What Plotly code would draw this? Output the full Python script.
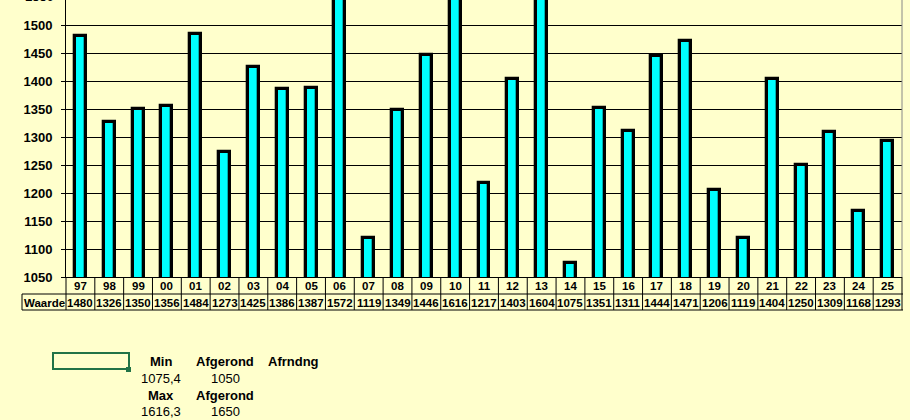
import plotly.graph_objects as go

# ---- data ----
years = ["97", "98", "99", "00", "01", "02", "03", "04", "05", "06", "07", "08", "09", "10",
         "11", "12", "13", "14", "15", "16", "17", "18", "19", "20", "21", "22", "23", "24", "25"]
values = [1480, 1326, 1350, 1356, 1484, 1273, 1425, 1386, 1387, 1572, 1119, 1349, 1446, 1616,
          1217, 1403, 1604, 1075, 1351, 1311, 1444, 1471, 1206, 1119, 1404, 1250, 1309, 1168, 1293]
y_ticks = [1050, 1100, 1150, 1200, 1250, 1300, 1350, 1400, 1450, 1500, 1550]
row_label = "Waarde"
sum_headers1 = ["Min", "Afgerond", "Afrndng"]
sum_values1 = ["1075,4", "1050", ""]
sum_headers2 = ["Max", "Afgerond"]
sum_values2 = ["1616,3", "1650"]

# ---- layout geometry (pixels) ----
W, H = 910, 420
L, R, T, B = 66, 902, 0, 277
y_min = 1050
px_per_unit = 0.56
y_max = y_min + (B - T) / px_per_unit
n = len(years)

def pxx(x):
    return (x - L) / (R - L)

def pxy(y):
    return (B - y) / (B - T)

def catx(i):
    return (i + 0.5) / n

BG = "#FFFFCC"
FONT = "Liberation Sans"

fig = go.Figure()
fig.add_trace(go.Bar(
    x=list(range(n)), y=values, width=0.38,
    marker=dict(color="#00FFFF", line=dict(color="black", width=3.3)),
    hoverinfo="skip",
))

shapes = []
annotations = []

# table: vertical lines at category boundaries
for i in range(n + 1):
    xb = i / n
    shapes.append(dict(type="line", xref="paper", yref="paper", x0=xb, x1=xb,
                       y0=pxy(277), y1=pxy(310), line=dict(color="black", width=1)))
# horizontal lines
for yy in (294, 310):
    shapes.append(dict(type="line", xref="paper", yref="paper", x0=pxx(22), x1=1 + 1 / (R - L),
                       y0=pxy(yy), y1=pxy(yy), line=dict(color="black", width=1)))
# left cell border
shapes.append(dict(type="line", xref="paper", yref="paper", x0=pxx(22), x1=pxx(22),
                   y0=pxy(294), y1=pxy(310), line=dict(color="black", width=1)))
# right gray border of plot area
shapes.append(dict(type="line", xref="paper", yref="paper", x0=1, x1=1,
                   y0=0, y1=1, line=dict(color="#888888", width=1)))

for i, (yr, v) in enumerate(zip(years, values)):
    annotations.append(dict(xref="paper", yref="paper", x=catx(i), y=pxy(286), text=f"<b>{yr}</b>",
                            showarrow=False, xanchor="center", yanchor="middle",
                            font=dict(family=FONT, size=11.5, color="black")))
    annotations.append(dict(xref="paper", yref="paper", x=catx(i), y=pxy(302.5), text=f"<b>{v}</b>",
                            showarrow=False, xanchor="center", yanchor="middle",
                            font=dict(family=FONT, size=11.5, color="black")))
annotations.append(dict(xref="paper", yref="paper", x=pxx(44), y=pxy(302.5), text=f"<b>{row_label}</b>",
                        showarrow=False, xanchor="center", yanchor="middle",
                        font=dict(family=FONT, size=11.5, color="black")))

# partially visible top tick label
annotations.append(dict(xref="paper", yref="paper", x=0, xshift=-10,
                        y=(y_ticks[-1] - y_min) / (y_max - y_min),
                        text=f"<b>{y_ticks[-1]}</b>", showarrow=False, xanchor="right", yanchor="middle",
                        font=dict(family=FONT, size=13, color="black")))

# green selected cell
shapes.append(dict(type="rect", xref="paper", yref="paper", x0=pxx(53), x1=pxx(129),
                   y0=pxy(353), y1=pxy(369), line=dict(color="#217346", width=2)))
shapes.append(dict(type="rect", xref="paper", yref="paper", x0=pxx(126), x1=pxx(131),
                   y0=pxy(367), y1=pxy(372), fillcolor="#217346", line=dict(width=0)))

# summary text
cols = [160.5, 225, 293]
def add_text(xc, yc, txt, bold):
    if not txt:
        return
    t = f"<b>{txt}</b>" if bold else txt
    annotations.append(dict(xref="paper", yref="paper", x=pxx(xc), y=pxy(yc), text=t,
                            showarrow=False, xanchor="center", yanchor="middle",
                            font=dict(family=FONT, size=13, color="black")))

for c, t in zip(cols, sum_headers1):
    add_text(c, 361.5, t, True)
for c, t in zip(cols, sum_values1):
    add_text(c, 378, t, False)
for c, t in zip(cols, sum_headers2):
    add_text(c, 395, t, True)
for c, t in zip(cols, sum_values2):
    add_text(c, 411.5, t, False)

fig.update_layout(
    width=W, height=H,
    margin=dict(l=L, r=W - R, t=T, b=H - B, pad=0),
    paper_bgcolor=BG, plot_bgcolor=BG,
    showlegend=False,
    bargap=0,
    shapes=shapes,
    annotations=annotations,
    xaxis=dict(range=[-0.5, n - 0.5], showgrid=False, zeroline=False, showticklabels=False,
               showline=True, linecolor="black", linewidth=1, ticks=""),
    yaxis=dict(range=[y_min, y_max], tickvals=y_ticks[:-1], showgrid=True, gridcolor="black",
               gridwidth=1, zeroline=False, showline=True, linecolor="black", linewidth=1,
               ticks="outside", ticklen=4, tickcolor="black", ticklabelstandoff=6,
               tickfont=dict(family=FONT, size=13, color="black", weight="bold")),
)

fig.write_html("out.html")
